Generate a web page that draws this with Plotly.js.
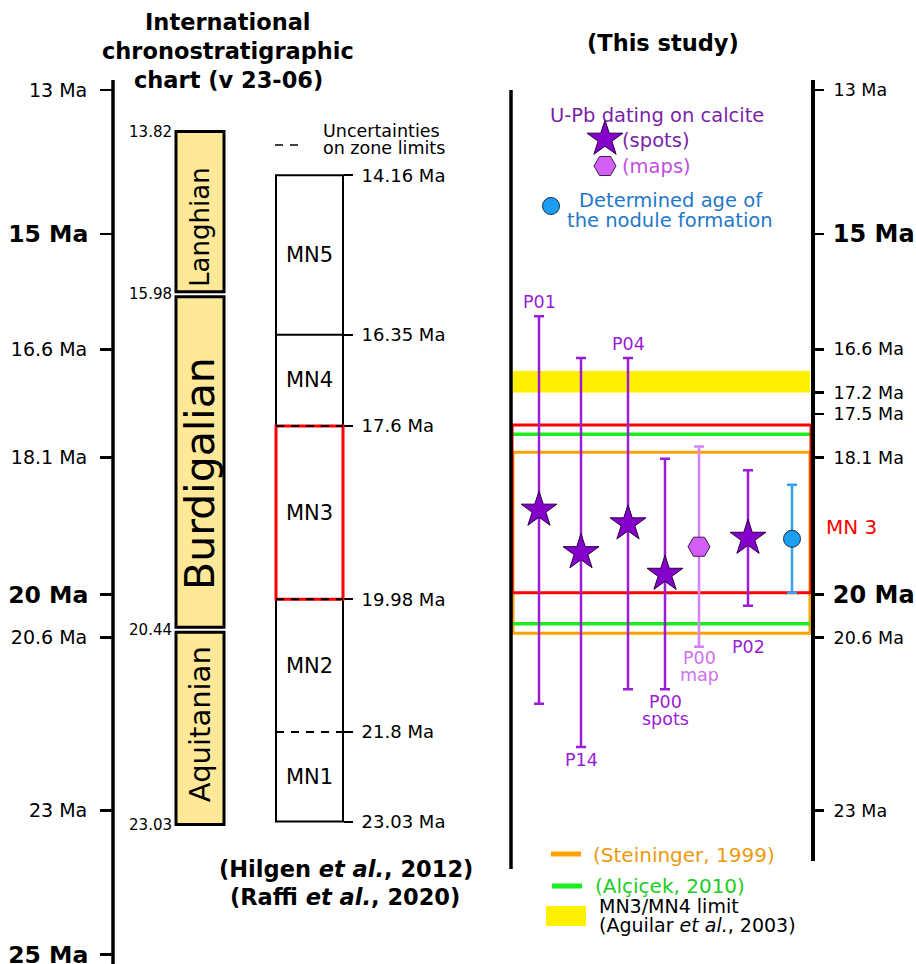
<!DOCTYPE html>
<html><head><meta charset="utf-8">
<script src="https://cdn.plot.ly/plotly-3.0.1.min.js"></script>
<style>html,body{margin:0;padding:0;background:#fff}</style>
</head><body><div id="chart" style="width:916px;height:964px"></div>
<script>
// ---------------- DATA ----------------
const leftTicks = [13, 16.6, 18.1, 20.6, 23];
const leftTicksBold = [15, 20, 25];
const rightTicks = [13, 16.6, 17.2, 17.5, 18.1, 20.6, 23];
const rightTicksBold = [15, 20];
const stageNames = ['Langhian', 'Burdigalian', 'Aquitanian'];
const stageBounds = [13.82, 15.98, 20.44, 23.03];
const zoneNames = ['MN5', 'MN4', 'MN3', 'MN2', 'MN1'];
const zoneBounds = [14.16, 16.35, 17.6, 19.98, 21.8, 23.03];
const zoneBoundDashed = [false, false, true, true, true, false];
const spotSamples = [['P01'], ['P14'], ['P04'], ['P00', 'spots'], ['P02']];
const spotAges = [18.83, 19.42, 19.02, 19.72, 19.22];
const spotErrors = [2.69, 2.70, 2.30, 1.60, 0.94];
const mapSamples = [['P00', 'map']];
const mapAges = [19.34];
const mapErrors = [1.39];
const noduleAges = [19.23];
const noduleErrors = [0.75];
const mn3mn4Limit = [16.9, 17.2];        // Aguilar et al., 2003
const mn3Zone = [17.65, 19.98];          // MN 3 box
const alcicekLimits = [17.78, 20.41];    // Alcicek, 2010
const steiningerLimits = [18.03, 20.54]; // Steininger, 1999

// ---------------- LAYOUT HELPERS ----------------
const FONT = 'DejaVu Sans, Verdana, sans-serif';
const W = 916, H = 964;
const py = p => 1 - p / H;
function ageRange(refAge, refPx, pxPerMa) { return [refAge + (H - refPx) / pxPerMa, refAge - refPx / pxPerMa]; }
const mainRange = ageRange(13, 90, 72.04);
const icsRange = ageRange(18.3175, 470, 75.24);
const mnRange = ageRange(18.82, 514.8, 72.85);

const ICS_X = 200, ICS_W = 48;
const MN_X0 = 276, MN_X1 = 343;
const spotX = [539, 581, 628, 665, 748];
const mapX = [699];
const noduleX = [792];
const spotLabelShift = [14, -13, 14, -13, -41];
const mapLabelShift = [-11];
const stageFont = [26, 41, 29];
const stageShift = [-14, -12, 3];
const PANEL_X0 = 513, PANEL_X1 = 810;

const C_SPOT = '#8600cc', C_SPOT_BAR = '#9a1cd6', C_MAP = '#d35ff5', C_MAP_BAR = '#d484f6';
const C_NOD = '#1e9ef2', C_NOD_BAR = '#35a2f0';

const traces = [];
// ICS stages (bars)
const GAP = 2.5 / 75.24;
const stageTop = stageNames.map((n, i) => stageBounds[i] + (i > 0 ? GAP : 0));
const stageBot = stageNames.map((n, i) => stageBounds[i + 1] - (i < stageNames.length - 1 ? GAP : 0));
traces.push({
  type: 'bar', x: stageNames.map(() => ICS_X), width: ICS_W, yaxis: 'y2',
  base: stageTop, y: stageBot.map((b, i) => b - stageTop[i]),
  marker: {color: '#ffe999', line: {color: '#000', width: 3}}, hoverinfo: 'skip', showlegend: false
});
// MN column outer box
traces.push({
  type: 'bar', x: [(MN_X0 + MN_X1) / 2], width: MN_X1 - MN_X0, yaxis: 'y3',
  base: [zoneBounds[0]], y: [zoneBounds[zoneBounds.length - 1] - zoneBounds[0]],
  marker: {color: 'rgba(255,255,255,0)', line: {color: '#000', width: 2}}, hoverinfo: 'skip', showlegend: false
});
// U-Pb spots
traces.push({
  type: 'scatter', mode: 'markers', x: spotX, y: spotAges, yaxis: 'y',
  error_y: {type: 'data', array: spotErrors, color: C_SPOT_BAR, thickness: 2.5, width: 5},
  marker: {symbol: 'star', size: 27, color: C_SPOT, line: {color: '#2a0040', width: 1}},
  hoverinfo: 'skip', showlegend: false, cliponaxis: false
});
// U-Pb maps
traces.push({
  type: 'scatter', mode: 'markers', x: mapX, y: mapAges, yaxis: 'y',
  error_y: {type: 'data', array: mapErrors, color: C_MAP_BAR, thickness: 2.5, width: 5},
  marker: {symbol: 'hexagon2', size: 22, color: C_MAP, line: {color: '#3a1a4a', width: 1}},
  hoverinfo: 'skip', showlegend: false, cliponaxis: false
});
// nodule age
traces.push({
  type: 'scatter', mode: 'markers', x: noduleX, y: noduleAges, yaxis: 'y4',
  error_y: {type: 'data', array: noduleErrors, color: C_NOD_BAR, thickness: 2.5, width: 5},
  marker: {symbol: 'circle', size: 17, color: C_NOD, line: {color: '#10304a', width: 1}},
  hoverinfo: 'skip', showlegend: false, cliponaxis: false
});
// legend glyphs (pixel axis y7)
traces.push({
  type: 'scatter', mode: 'markers', x: [605], y: [139], yaxis: 'y7',
  marker: {symbol: 'star', size: 27, color: C_SPOT, line: {color: '#2a0040', width: 1}},
  hoverinfo: 'skip', showlegend: false, cliponaxis: false
});
traces.push({
  type: 'scatter', mode: 'markers', x: [605], y: [166], yaxis: 'y7',
  marker: {symbol: 'hexagon2', size: 22, color: C_MAP, line: {color: '#3a1a4a', width: 1}},
  hoverinfo: 'skip', showlegend: false, cliponaxis: false
});
traces.push({
  type: 'scatter', mode: 'markers', x: [551], y: [206], yaxis: 'y7',
  marker: {symbol: 'circle', size: 17, color: C_NOD, line: {color: '#10304a', width: 1}},
  hoverinfo: 'skip', showlegend: false, cliponaxis: false
});
// placeholder traces so the bold-label axes exist
['y5', 'y6'].forEach(a => traces.push({type: 'scatter', mode: 'markers', x: [null], y: [null], yaxis: a, showlegend: false, hoverinfo: 'skip'}));

// ---------------- SHAPES ----------------
const shapes = [];
const vline = (x, p0, p1, w) => ({type: 'line', xref: 'x', yref: 'paper', x0: x, x1: x, y0: py(p0), y1: py(p1), line: {color: '#000', width: w}});
shapes.push(vline(113, 80, 964, 3.5));
shapes.push(vline(813, 80, 861, 4));
shapes.push(vline(511, 90, 869, 3.5));
// MN3 red box
shapes.push({type: 'rect', xref: 'x', yref: 'y3', x0: MN_X0, x1: MN_X1, y0: zoneBounds[2], y1: zoneBounds[3], line: {color: '#ff0000', width: 3}});
// MN internal boundaries
zoneBounds.forEach((b, i) => {
  if (i === 0 || i === zoneBounds.length - 1) return;
  shapes.push({type: 'line', xref: 'x', yref: 'y3', x0: MN_X0, x1: MN_X1, y0: b, y1: b,
    line: {color: '#000', width: 2, dash: zoneBoundDashed[i] ? '8px,7px' : 'solid'}});
});
// uncertainty legend dashes
shapes.push({type: 'line', xref: 'x', yref: 'paper', x0: 275, x1: 303, y0: py(145), y1: py(145), line: {color: '#000', width: 1.5, dash: '8px,7px'}});
// right panel zones
shapes.push({type: 'rect', layer: 'below', xref: 'x', yref: 'y', x0: PANEL_X0, x1: PANEL_X1, y0: mn3mn4Limit[0], y1: mn3mn4Limit[1], fillcolor: '#fff000', line: {width: 0}});
shapes.push({type: 'rect', layer: 'below', xref: 'x', yref: 'y', x0: PANEL_X0, x1: PANEL_X1, y0: steiningerLimits[0], y1: steiningerLimits[1], line: {color: '#ffa200', width: 3}});
alcicekLimits.forEach(v => shapes.push({type: 'line', layer: 'below', xref: 'x', yref: 'y', x0: PANEL_X0, x1: PANEL_X1, y0: v, y1: v, line: {color: '#1ced1c', width: 3.5}}));
shapes.push({type: 'rect', layer: 'below', xref: 'x', yref: 'y', x0: PANEL_X0 - 1, x1: PANEL_X1 + 1, y0: mn3Zone[0], y1: mn3Zone[1], line: {color: '#ff0000', width: 3}});
// bottom legend glyphs
shapes.push({type: 'line', xref: 'x', yref: 'paper', x0: 551, x1: 581, y0: py(854), y1: py(854), line: {color: '#ffa200', width: 5}});
shapes.push({type: 'line', xref: 'x', yref: 'paper', x0: 552, x1: 582, y0: py(886), y1: py(886), line: {color: '#1ced1c', width: 5}});
shapes.push({type: 'rect', xref: 'x', yref: 'paper', x0: 546, x1: 586, y0: py(906), y1: py(926), fillcolor: '#fff000', line: {width: 0}});

// ---------------- ANNOTATIONS ----------------
const ann = [];
const txt = (text, x, p, size, opts) => Object.assign({text, x, y: py(p), xref: 'x', yref: 'paper', showarrow: false,
  font: {family: FONT, size, color: '#000'}, xanchor: 'center', yanchor: 'middle', borderpad: 0}, opts || {});
// titles
ann.push(txt('<b>International</b>', 228, 22, 22.5));
ann.push(txt('<b>chronostratigraphic</b>', 228, 51, 22.5));
ann.push(txt('<b>chart (v 23-06)</b>', 228, 80, 22.5));
ann.push(txt('<b>(This study)</b>', 663, 43, 22.5));
ann.push(txt('<b>(Hilgen <i>et al.</i>, 2012)</b>', 346, 869, 22.5));
ann.push(txt('<b>(Raffi <i>et al.</i>, 2020)</b>', 345, 897, 22.5));
ann.push(txt('Uncertainties', 322, 131, 17.5, {xanchor: 'left'}));
ann.push(txt('on zone limits', 322, 148, 17.5, {xanchor: 'left'}));
// stage names
stageNames.forEach((n, i) => ann.push({text: n, x: ICS_X, y: (stageBounds[i] + stageBounds[i + 1]) / 2, xref: 'x', yref: 'y2',
  showarrow: false, textangle: -90, yshift: stageShift[i], font: {family: FONT, size: stageFont[i], color: '#000'}}));
// MN zone names
zoneNames.forEach((n, i) => ann.push({text: n, x: (MN_X0 + MN_X1) / 2, y: (zoneBounds[i] + zoneBounds[i + 1]) / 2, xref: 'x', yref: 'y3',
  showarrow: false, font: {family: FONT, size: 21, color: '#000'}}));
// sample labels
function sampleLabels(lines, xs, ages, errs, shifts, color) {
  lines.forEach((ls, i) => {
    const up = shifts[i] > 0;
    const yv = up ? ages[i] - errs[i] : ages[i] + errs[i];
    ls.forEach((l, j) => ann.push({text: l, x: xs[i], y: yv, xref: 'x', yref: 'y', showarrow: false,
      yshift: shifts[i] - j * 17, font: {family: FONT, size: 17.5, color}}));
  });
}
sampleLabels(spotSamples, spotX, spotAges, spotErrors, spotLabelShift, '#9a1cd6');
sampleLabels(mapSamples, mapX, mapAges, mapErrors, mapLabelShift, '#d070f2');
// legend texts
ann.push(txt('U-Pb dating on calcite', 657, 115, 19.5, {font: {family: FONT, size: 19.5, color: '#7b1fa8'}}));
ann.push(txt('(spots)', 621, 140, 19.5, {xanchor: 'left', font: {family: FONT, size: 19.5, color: '#7b1fa8'}}));
ann.push(txt('(maps)', 621, 166, 19.5, {xanchor: 'left', font: {family: FONT, size: 19.5, color: '#c24fe0'}}));
ann.push(txt('Determined age of', 671, 200, 19.5, {font: {family: FONT, size: 19.5, color: '#1f78c8'}}));
ann.push(txt('the nodule formation', 670, 221, 19.5, {font: {family: FONT, size: 19.5, color: '#1f78c8'}}));
ann.push(txt('MN 3', 851, 527, 20, {font: {family: FONT, size: 20, color: '#ff0000'}}));
ann.push(txt('(Steininger, 1999)', 592, 855, 20, {xanchor: 'left', font: {family: FONT, size: 20, color: '#eb9a0e'}}));
ann.push(txt('(Alçiçek, 2010)', 594, 886, 20, {xanchor: 'left', font: {family: FONT, size: 20, color: '#1dcc1d'}}));
ann.push(txt('MN3/MN4 limit', 598, 906, 19, {xanchor: 'left'}));
ann.push(txt('(Aguilar <i>et al.</i>, 2003)', 598, 925, 19, {xanchor: 'left'}));

// ---------------- AXES ----------------
const ax = (o) => Object.assign({anchor: 'free', overlaying: 'y', showgrid: false, zeroline: false, showline: false,
  autorange: false, fixedrange: true, tickmode: 'array', ticks: 'outside', tickcolor: '#000', domain: [0, 1],
  ticklabeloverflow: 'allow'}, o);
const yMain = ax({range: mainRange, position: 113 / W, side: 'left', tickvals: leftTicks,
    ticktext: leftTicks.map(v => v + ' Ma'), ticklen: 13, tickwidth: 2.5, ticklabelstandoff: 9,
    tickfont: {family: FONT, size: 19, color: '#000'}});
delete yMain.overlaying;
const layout = {
  width: W, height: H, margin: {l: 0, r: 0, t: 0, b: 0}, paper_bgcolor: '#fff', plot_bgcolor: 'rgba(0,0,0,0)',
  showlegend: false, barmode: 'overlay', font: {family: FONT},
  xaxis: {range: [0, W], visible: false, fixedrange: true, domain: [0, 1]},
  yaxis: yMain,
  yaxis5: ax({range: mainRange, position: 113 / W, side: 'left', tickvals: leftTicksBold,
    ticktext: leftTicksBold.map(v => '<b>' + v + ' Ma</b>'), ticklen: 13, tickwidth: 2.5, ticklabelstandoff: 7,
    tickfont: {family: FONT, size: 23.5, color: '#000'}}),
  yaxis2: ax({range: icsRange, position: 176 / W, side: 'left', tickvals: stageBounds,
    ticktext: stageBounds.map(v => v.toFixed(2)), ticks: '', ticklabelstandoff: 4,
    tickfont: {family: FONT, size: 15, color: '#000'}}),
  yaxis3: ax({range: mnRange, position: MN_X1 / W, side: 'right', tickvals: zoneBounds,
    ticktext: zoneBounds.map(v => v + ' Ma'), ticklen: 9, tickwidth: 2, ticklabelstandoff: 5,
    tickfont: {family: FONT, size: 18, color: '#000'}}),
  yaxis4: ax({range: mainRange, position: 813 / W, side: 'right', tickvals: rightTicks,
    ticktext: rightTicks.map(v => v + ' Ma'), ticklen: 10, tickwidth: 2.5, ticklabelstandoff: 6,
    tickfont: {family: FONT, size: 17.5, color: '#000'}}),
  yaxis6: ax({range: mainRange, position: 813 / W, side: 'right', tickvals: rightTicksBold,
    ticktext: rightTicksBold.map(v => '<b>' + v + ' Ma</b>'), ticklen: 10, tickwidth: 2.5, ticklabelstandoff: 4,
    tickfont: {family: FONT, size: 24, color: '#000'}}),
  yaxis7: ax({range: [H, 0], visible: false, position: 0}),
  shapes, annotations: ann
};
Plotly.newPlot('chart', traces, layout, {displayModeBar: false, staticPlot: true});
</script></body></html>
